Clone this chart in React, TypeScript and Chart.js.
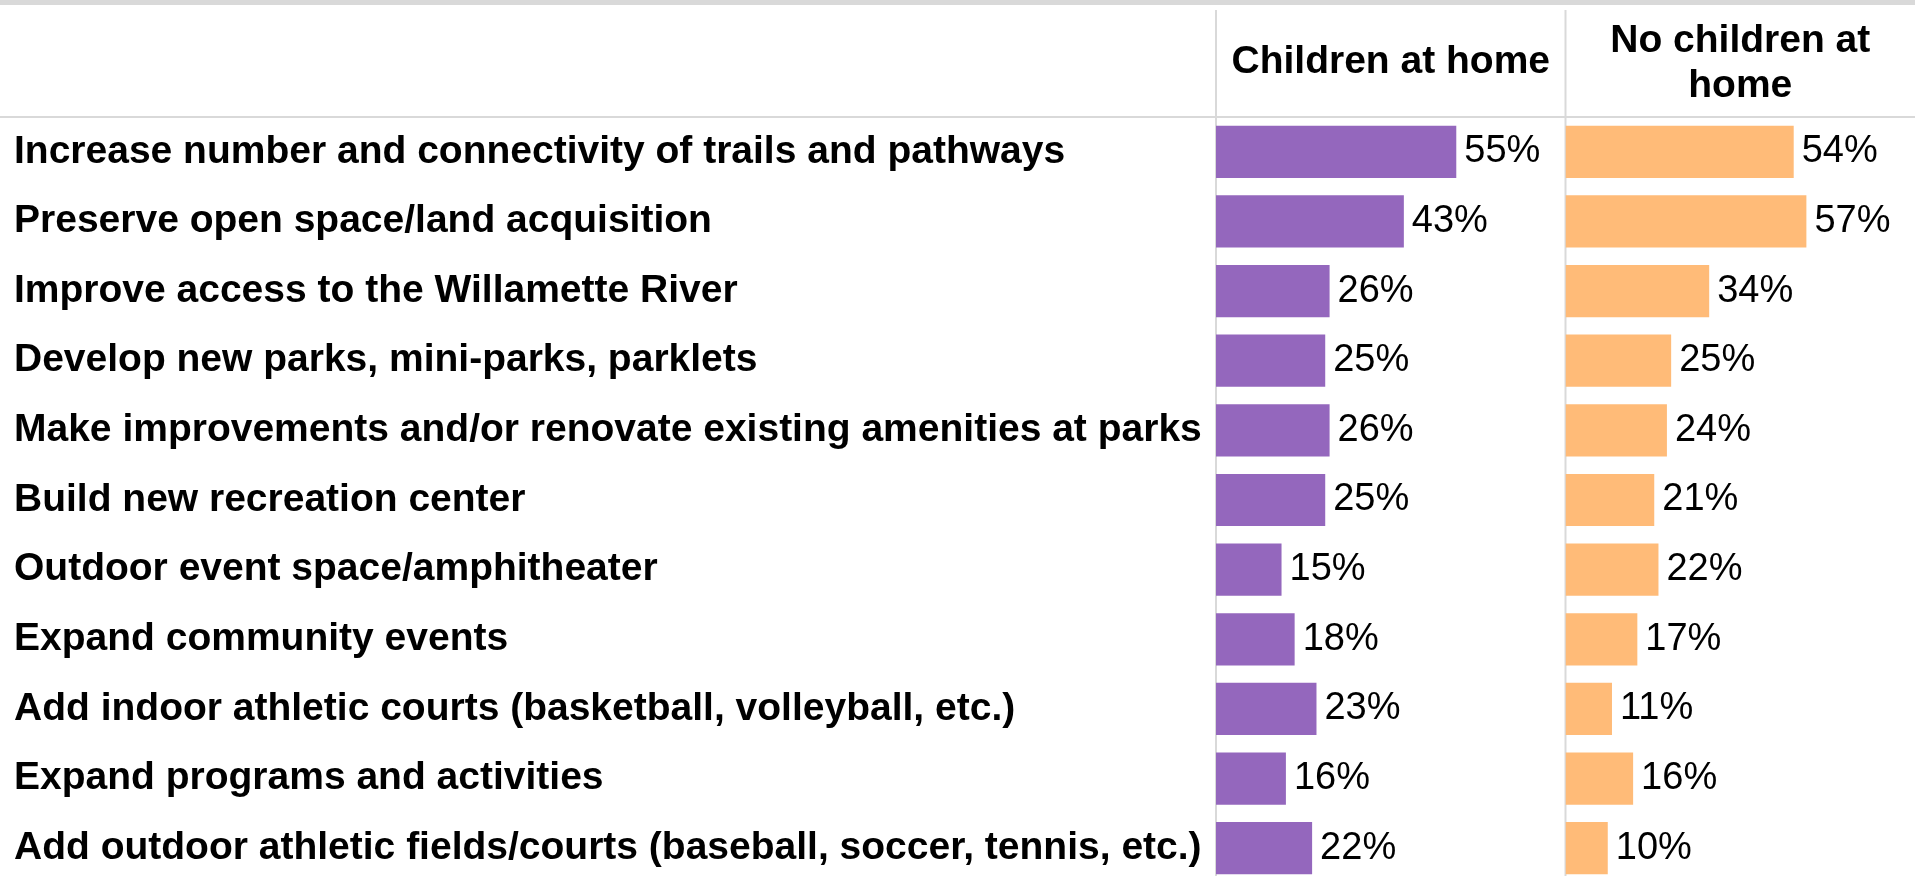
import React, { useEffect, useRef } from 'react';
import { Chart, registerables } from 'chart.js';

Chart.register(...registerables);

const categories = [
  'Increase number and connectivity of trails and pathways',
  'Preserve open space/land acquisition',
  'Improve access to the Willamette River',
  'Develop new parks, mini-parks, parklets',
  'Make improvements and/or renovate existing amenities at parks',
  'Build new recreation center',
  'Outdoor event space/amphitheater',
  'Expand community events',
  'Add indoor athletic courts (basketball, volleyball, etc.)',
  'Expand programs and activities',
  'Add outdoor athletic fields/courts (baseball, soccer, tennis, etc.)',
];

const childrenAtHome = [55, 43, 26, 25, 26, 25, 15, 18, 23, 16, 22];
const noChildrenAtHome = [54, 57, 34, 25, 24, 21, 22, 17, 11, 16, 10];

const childrenTitle = ['Children at home'];
const noChildrenTitle = ['No children at', 'home'];

const FONT = '"Liberation Sans", Arial, Helvetica, sans-serif';
const GRID = '#d9d9d9';

const framePlugin = {
  id: 'frame',
  beforeDraw(chart: any) {
    const { ctx, chartArea, width, height } = chart;
    ctx.save();
    ctx.fillStyle = GRID;
    ctx.fillRect(0, 0, width, 5);
    ctx.strokeStyle = GRID;
    ctx.lineWidth = 2;
    ctx.beginPath();
    ctx.moveTo(0, chartArea.top);
    ctx.lineTo(width, chartArea.top);
    for (const id of ['x1', 'x2']) {
      const s = chart.scales[id];
      ctx.moveTo(s.left, 10);
      ctx.lineTo(s.left, height);
    }
    ctx.stroke();
    ctx.restore();
  },
};

const valueLabelPlugin = {
  id: 'valueLabels',
  afterDatasetsDraw(chart: any) {
    const { ctx } = chart;
    ctx.save();
    ctx.font = `38px ${FONT}`;
    ctx.fillStyle = '#000';
    ctx.textAlign = 'left';
    ctx.textBaseline = 'middle';
    chart.data.datasets.forEach((ds: any, di: number) => {
      const meta = chart.getDatasetMeta(di);
      meta.data.forEach((el: any, i: number) => {
        ctx.fillText(`${ds.data[i]}%`, el.x + 8, el.y);
      });
    });
    ctx.restore();
  },
};

export default function App() {
  const canvasRef = useRef<HTMLCanvasElement | null>(null);

  useEffect(() => {
    if (!canvasRef.current) return;
    const chart = new Chart(canvasRef.current, {
      type: 'bar',
      data: {
        labels: categories,
        datasets: [
          {
            label: childrenTitle.join(' '),
            data: childrenAtHome,
            backgroundColor: '#9467bd',
            xAxisID: 'x1',
            yAxisID: 'y',
            grouped: false,
            barPercentage: 0.75,
            categoryPercentage: 1,
          },
          {
            label: noChildrenTitle.join(' '),
            data: noChildrenAtHome,
            backgroundColor: '#ffbb78',
            xAxisID: 'x2',
            yAxisID: 'y',
            grouped: false,
            barPercentage: 0.75,
            categoryPercentage: 1,
          },
        ],
      },
      options: {
        indexAxis: 'y',
        responsive: false,
        animation: false,
        layout: { padding: { top: 10, left: 14, right: 0, bottom: 0 } },
        plugins: {
          legend: { display: false },
          tooltip: { enabled: false },
        },
        scales: {
          x2: {
            type: 'linear',
            position: 'top',
            stack: 'cols',
            stackWeight: 1,
            min: 0,
            max: 82.7,
            ticks: { display: false },
            grid: { display: false },
            border: { display: false },
            title: {
              display: true,
              text: noChildrenTitle,
              color: '#000',
              font: { family: FONT, size: 39, weight: 'bold', lineHeight: 1.15 },
              padding: { top: 9, bottom: 0 },
            },
            afterFit(s: any) {
              s.height = 107;
            },
          },
          x1: {
            type: 'linear',
            position: 'top',
            stack: 'cols',
            stackWeight: 1,
            min: 0,
            max: 80,
            ticks: { display: false },
            grid: { display: false },
            border: { display: false },
            title: {
              display: true,
              text: childrenTitle,
              color: '#000',
              font: { family: FONT, size: 39, weight: 'bold', lineHeight: 1.2 },
              padding: { top: 29, bottom: 0 },
            },
            afterFit(s: any) {
              s.height = 107;
            },
          },
          y: {
            type: 'category',
            position: 'left',
            grid: { display: false },
            border: { display: false },
            ticks: {
              autoSkip: false,
              crossAlign: 'far',
              padding: 0,
              color: '#000',
              font: { family: FONT, size: 39, weight: 'bold' },
            },
            afterFit(s: any) {
              s.width = 1202;
              s.paddingTop = 0;
              s.paddingBottom = 0;
            },
          },
        },
      } as any,
      plugins: [framePlugin, valueLabelPlugin],
    });
    return () => chart.destroy();
  }, []);

  return (
    <div
      style={{
        position: 'fixed',
        left: 0,
        top: 0,
        width: 1915,
        height: 876,
        overflow: 'hidden',
        background: '#fff',
      }}
    >
      <canvas ref={canvasRef} width={1915} height={883} style={{ display: 'block' }} />
    </div>
  );
}
